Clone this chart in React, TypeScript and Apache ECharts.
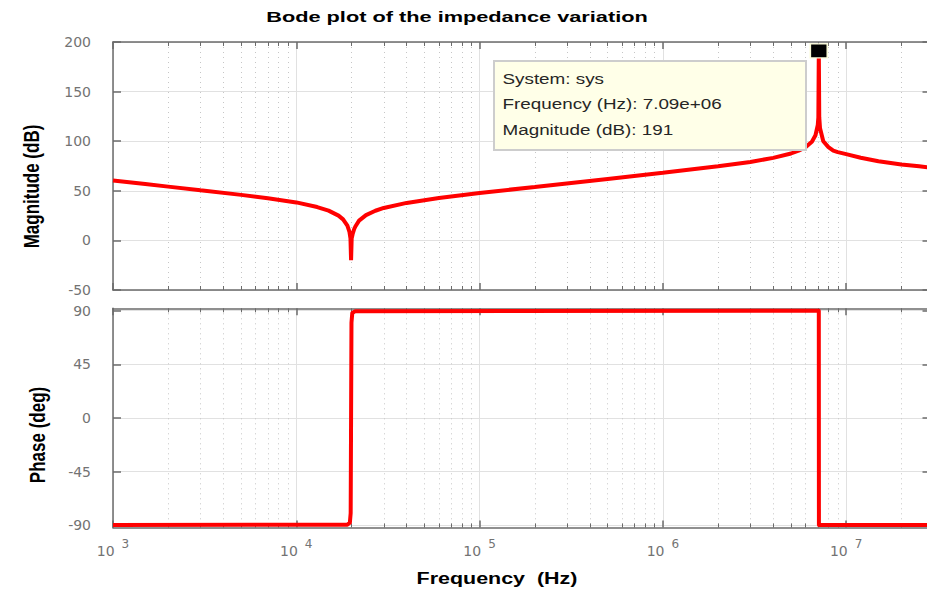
import React, { useEffect, useRef } from "react";
import * as echarts from "echarts";

// Impedance magnitude response (Hz, dB)
const magFreqHz = [
  1e3, 1.5e3, 2e3, 3e3, 5e3, 7e3, 1e4, 1.3e4, 1.5e4, 1.7e4, 1.8e4, 1.9e4, 1.95e4, 1.975e4,
  1.99e4, 2.005e4, 2.03e4, 2.07e4, 2.1e4, 2.2e4, 2.4e4, 2.7e4, 3e4, 4e4, 6e4, 1e5, 2e5, 5e5,
  1e6, 2e6, 3e6, 4e6, 5e6, 5.5e6, 6e6, 6.5e6, 6.8e6, 7.0e6, 7.05e6, 7.09e6, 7.13e6, 7.2e6,
  7.5e6, 8e6, 8.5e6, 9e6, 1e7, 1.2e7, 1.5e7, 2e7, 2.5e7, 2.9e7,
];
const magDb = [
  60.3, 56.8, 54.2, 50.5, 45.9, 42.4, 38.3, 33.6, 30.0, 25.0, 21.2, 14.8, 8.5, 2.0,
  -20, 2.0, 6.5, 11.5, 14.0, 19.9, 25.5, 29.9, 32.7, 37.8, 42.8, 47.8, 53.9, 62.0,
  68.2, 74.7, 79.1, 83.2, 87.6, 90.5, 94.0, 99.5, 106, 116.5, 124, 191, 124, 113,
  100, 94.0, 90.5, 89.0, 87.0, 83.3, 79.8, 76.6, 74.7, 73.4,
];

// Impedance phase response (Hz, degrees)
const phaseFreqHz = [1e3, 1.9e4, 1.96e4, 1.98e4, 1.99e4, 2.0e4, 2.02e4, 2.1e4, 7.09e6, 7.1e6, 2.9e7];
const phaseDeg = [-90, -89.6, -88, -80, 0, 80, 88, 89.6, 90, -90, -90];

// Data tip on the resonance peak
const tipSystem = "sys";
const tipFreqHz = 7.09e6;
const tipMagDb = 191;

// Axis ticks
const magTicks = [-50, 0, 50, 100, 150, 200];
const phaseTicks = [-90, -45, 0, 45, 90];
const decadeExponents = [3, 4, 5, 6, 7];
const minorSteps = [2, 3, 4, 5, 6, 7, 8, 9];

const LOG_MIN = 3;
const LOG_MAX = 7.46;

const RED = "#ff0000";
const AXIS_COLOR = "#6b6b6b";
const GRID_COLOR = "#e1e1e1";
const MINOR_COLOR = "#c6c6c6";
const LABEL_COLOR = "#737373";
const TICK_FONT = "DejaVu Sans";
const TEXT_FONT = '"Liberation Sans", Arial, sans-serif';

const lg = (f: number) => Math.log10(f);

const minorX = decadeExponents
  .flatMap((e) => minorSteps.map((m) => e + lg(m)))
  .filter((v) => v < LOG_MAX);

function fmtExp(v: number) {
  const [m, e] = v.toExponential(2).split("e");
  return `${m}e${e[0]}${e.slice(1).padStart(2, "0")}`;
}

function xAxesFor(gridIndex: number, withLabels: boolean) {
  const line = { show: true, onZero: false, lineStyle: { color: AXIS_COLOR, width: 1.5 } };
  const hiddenLine = { show: false, onZero: false };
  const base = {
    type: "value",
    gridIndex,
    min: LOG_MIN,
    max: LOG_MAX,
    splitLine: { show: false },
    axisLabel: { show: false },
  };
  const majorTick = {
    show: true,
    inside: true,
    length: 7,
    customValues: decadeExponents,
    lineStyle: { color: AXIS_COLOR, width: 1.5 },
  };
  const minorTick = {
    show: true,
    inside: true,
    length: 4,
    customValues: minorX,
    lineStyle: { color: AXIS_COLOR, width: 1 },
  };
  return [
    {
      ...base,
      position: "bottom",
      axisLine: line,
      axisTick: majorTick,
      splitLine: { show: true, lineStyle: { color: GRID_COLOR, width: 1 } },
      axisLabel: withLabels
        ? {
            show: true,
            customValues: decadeExponents,
            margin: 8,
            formatter: (v: number) => `{b|10}{s|${Math.round(v)}}`,
            rich: {
              b: { fontSize: 14, fontFamily: TICK_FONT, color: LABEL_COLOR, padding: [8, 0, 0, 0] },
              s: { fontSize: 12, fontFamily: TICK_FONT, color: LABEL_COLOR, padding: [0, 0, 6, 7] },
            },
          }
        : { show: false },
    },
    { ...base, position: "top", axisLine: line, axisTick: majorTick },
    {
      ...base,
      position: "bottom",
      axisLine: hiddenLine,
      axisTick: minorTick,
      splitLine: { show: true, lineStyle: { color: MINOR_COLOR, width: 1, type: [1, 4] } },
    },
    { ...base, position: "top", axisLine: hiddenLine, axisTick: minorTick },
  ];
}

function yAxesFor(gridIndex: number, min: number, max: number, ticks: number[]) {
  const line = { show: true, onZero: false, lineStyle: { color: AXIS_COLOR, width: 1.5 } };
  const tick = {
    show: true,
    inside: true,
    length: 8,
    customValues: ticks,
    lineStyle: { color: AXIS_COLOR, width: 1.5 },
  };
  return [
    {
      type: "value",
      gridIndex,
      min,
      max,
      position: "left",
      axisLine: line,
      axisTick: tick,
      axisLabel: {
        customValues: ticks,
        color: LABEL_COLOR,
        fontSize: 14,
        fontFamily: TICK_FONT,
        margin: 22,
        padding: [0, 0, 6, 0],
      },
      splitLine: { show: true, lineStyle: { color: GRID_COLOR, width: 1 } },
    },
    {
      type: "value",
      gridIndex,
      min,
      max,
      position: "right",
      axisLine: line,
      axisTick: tick,
      axisLabel: { show: false },
      splitLine: { show: false },
    },
  ];
}

export default function App() {
  const ref = useRef<HTMLDivElement>(null);

  useEffect(() => {
    document.body.style.overflow = "hidden";
    const chart = echarts.init(ref.current!, undefined, { renderer: "svg" });

    const magData = magFreqHz.map((f, i) => [lg(f), magDb[i]]);
    const phaseData = phaseFreqHz.map((f, i) => [lg(f), phaseDeg[i]]);

    const tipLines = [
      `System: ${tipSystem}`,
      `Frequency (Hz): ${fmtExp(tipFreqHz)}`,
      `Magnitude (dB): ${tipMagDb}`,
    ];

    chart.setOption({
      animation: false,
      grid: [
        { left: 113, top: 42, width: 817.5, height: 248, outerBoundsMode: "none", containLabel: false },
        { left: 113, top: 308.3, width: 817.5, height: 219.2, outerBoundsMode: "none", containLabel: false },
      ],
      xAxis: [...xAxesFor(0, false), ...xAxesFor(1, true)],
      yAxis: [...yAxesFor(0, -50, 200, magTicks), ...yAxesFor(1, -92, 92, phaseTicks)],
      series: [
        {
          type: "line",
          xAxisIndex: 0,
          yAxisIndex: 0,
          data: magData,
          showSymbol: false,
          symbol: "none",
          lineStyle: { color: RED, width: 4, join: "bevel" },
          z: 3,
        },
        {
          type: "scatter",
          xAxisIndex: 0,
          yAxisIndex: 0,
          data: [[lg(tipFreqHz), tipMagDb]],
          symbol: "rect",
          symbolSize: [17, 14],
          itemStyle: { color: "#000000", borderColor: "#fbfbd8", borderWidth: 1.5, opacity: 1 },
          z: 6,
        },
        {
          type: "line",
          xAxisIndex: 4,
          yAxisIndex: 2,
          data: phaseData,
          showSymbol: false,
          symbol: "none",
          lineStyle: { color: RED, width: 4, join: "round" },
          z: 3,
        },
      ],
      graphic: [
        {
          type: "text",
          x: 457,
          y: 17,
          scaleX: 1.5,
          style: {
            text: "Bode plot of the impedance variation",
            font: `bold 14.5px ${TEXT_FONT}`,
            fill: "#000000",
            align: "center",
            verticalAlign: "middle",
          },
        },
        {
          type: "text",
          x: 497,
          y: 578,
          scaleX: 1.3,
          style: {
            text: "Frequency  (Hz)",
            font: `bold 16.5px ${TEXT_FONT}`,
            fill: "#000000",
            align: "center",
            verticalAlign: "middle",
          },
        },
        {
          type: "text",
          x: 31,
          y: 186.5,
          rotation: Math.PI / 2,
          scaleY: 1.33,
          style: {
            text: "Magnitude (dB)",
            font: `bold 17px ${TEXT_FONT}`,
            fill: "#000000",
            align: "center",
            verticalAlign: "middle",
          },
        },
        {
          type: "text",
          x: 37,
          y: 435,
          rotation: Math.PI / 2,
          scaleY: 1.33,
          style: {
            text: "Phase (deg)",
            font: `bold 17px ${TEXT_FONT}`,
            fill: "#000000",
            align: "center",
            verticalAlign: "middle",
          },
        },
        {
          type: "group",
          z: 10,
          children: [
            {
              type: "rect",
              shape: { x: 494, y: 61, width: 312, height: 89 },
              style: { fill: "#ffffe8", stroke: "#cdcdcd", lineWidth: 2 },
              z: 10,
            },
            ...tipLines.map((t, i) => ({
              type: "text",
              x: 502.5,
              y: 79 + i * 25.5,
              scaleX: 1.3,
              z: 11,
              style: {
                text: t,
                font: `14.5px ${TEXT_FONT}`,
                fill: "#262626",
                align: "left",
                verticalAlign: "middle",
              },
            })),
          ],
        },
      ],
    });

    return () => chart.dispose();
  }, []);

  return (
    <div
      ref={ref}
      style={{ position: "fixed", left: 0, top: 0, width: 927, height: 590, background: "#ffffff" }}
    />
  );
}
